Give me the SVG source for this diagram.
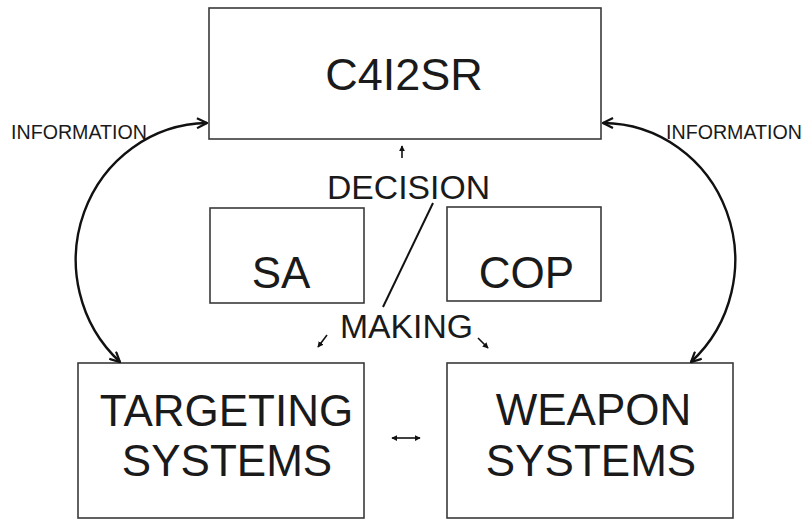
<svg xmlns="http://www.w3.org/2000/svg" width="803" height="520" viewBox="0 0 803 520">
<style>
.box{fill:#fff;stroke:#3a3a3a;stroke-width:1.6}
text{font-family:"Liberation Sans",Arial,sans-serif;fill:#1a1a1a;text-anchor:middle}
.big{font-size:44px}
.mid{font-size:33.5px}
.lbl{font-size:19.5px}
.arc{fill:none;stroke:#111;stroke-width:2.4;marker-start:url(#open);marker-end:url(#open)}
.sm{fill:none;stroke:#111;stroke-width:1.6;marker-end:url(#tri)}
</style>
<defs>
<marker id="open" viewBox="0 0 12 12" refX="11" refY="6" markerWidth="12" markerHeight="12" markerUnits="userSpaceOnUse" orient="auto-start-reverse">
<path d="M1 1 L11 6 L1 11" fill="none" stroke="#111" stroke-width="2.2"/>
</marker>
<marker id="tri" viewBox="0 0 8 8" refX="7" refY="4" markerWidth="6" markerHeight="6" markerUnits="userSpaceOnUse" orient="auto-start-reverse">
<path d="M0 0 L8 4 L0 8 Z" fill="#111"/>
</marker>
</defs>
<rect width="803" height="520" fill="#fff"/>
<g id="c4i2sr"><rect class="box" x="209" y="8" width="392" height="131"/><text x="404" y="90" style="font-size:45px">C4I2SR</text></g>
<g id="sa"><rect class="box" x="210" y="208" width="154" height="95"/><text class="big" x="281" y="288">SA</text></g>
<g id="cop"><rect class="box" x="447" y="207" width="154" height="94"/><text class="big" x="526.5" y="288">COP</text></g>
<g id="targeting"><rect class="box" x="78" y="363" width="286" height="155"/><text class="big" x="226.5" y="426">TARGETING</text><text class="big" x="227" y="476">SYSTEMS</text></g>
<g id="weapon"><rect class="box" x="447" y="363" width="286" height="155"/><text class="big" x="593.5" y="425">WEAPON</text><text class="big" x="591" y="476">SYSTEMS</text></g>
<g id="decision-making"><text class="mid" x="408.5" y="199" textLength="163" lengthAdjust="spacingAndGlyphs">DECISION</text><text class="mid" x="406.5" y="338" textLength="133" lengthAdjust="spacingAndGlyphs">MAKING</text></g>
<g id="labels"><text class="lbl" x="79" y="139" textLength="136" lengthAdjust="spacingAndGlyphs">INFORMATION</text><text class="lbl" x="734" y="139" textLength="136" lengthAdjust="spacingAndGlyphs">INFORMATION</text></g>
<g id="connectors">
<path class="arc" d="M120 362 A133 137 0 0 1 207 123"/>
<path class="arc" d="M691 362 A133 137 0 0 0 603 123"/>
<line x1="433" y1="203" x2="383" y2="307" stroke="#111" stroke-width="2"/>
<line class="sm" x1="402" y1="158" x2="402" y2="146"/>
<line class="sm" x1="327" y1="335" x2="318" y2="347"/>
<line class="sm" x1="478" y1="338" x2="488" y2="348"/>
<line class="sm" x1="392" y1="438" x2="420" y2="438" style="marker-start:url(#tri)"/>
</g>
</svg>
